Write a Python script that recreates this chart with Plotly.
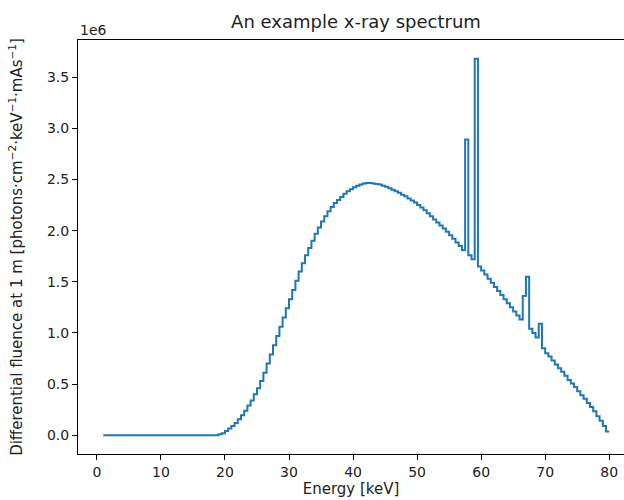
import plotly.graph_objects as go

# 1. Dados
# Bins de 0,5 keV; cada valor fica na borda superior do bin (1,0 ... 80,0 keV)
ENERGIA_INICIAL = 1.0
PASSO_KEV = 0.5

# Fluência diferencial a 1 m, em unidades de 1e6 fótons·cm⁻²·keV⁻¹·mAs⁻¹
fluencia_1e6 = [
    # 1,0 - 19,0 keV (filtrado, praticamente zero)
    0.0, 0.0, 0.0, 0.0, 0.0, 0.0, 0.0, 0.0, 0.0, 0.0,
    0.0, 0.0, 0.0, 0.0, 0.0, 0.0, 0.0, 0.0, 0.0, 0.0,
    0.0, 0.0, 0.0, 0.0, 0.0, 0.0, 0.0, 0.0, 0.0, 0.0,
    0.0, 0.0, 0.0, 0.0, 0.0, 0.0, 0.0,
    # 19,5 - 30,0 keV (subida)
    0.008, 0.02, 0.04, 0.065, 0.09, 0.12, 0.155, 0.195, 0.24, 0.29,
    0.34, 0.40, 0.46, 0.53, 0.61, 0.70, 0.79, 0.88, 0.97, 1.06,
    1.15, 1.24,
    # 30,5 - 45,0 keV
    1.33, 1.42, 1.51, 1.60, 1.68, 1.76, 1.83, 1.90, 1.97, 2.03,
    2.09, 2.14, 2.19, 2.23, 2.27, 2.30, 2.33, 2.36, 2.385, 2.405,
    2.425, 2.44, 2.45, 2.46, 2.465, 2.465, 2.46, 2.455, 2.45, 2.44,
    # 45,5 - 57,5 keV
    2.43, 2.415, 2.40, 2.385, 2.37, 2.35, 2.335, 2.315, 2.295, 2.275,
    2.25, 2.225, 2.20, 2.17, 2.14, 2.11, 2.08, 2.05, 2.02, 1.99,
    1.955, 1.92, 1.885, 1.85, 1.81,
    # 58,0 - 60,0 keV (linhas K-alfa do tungstênio)
    2.89, 1.76, 1.72, 3.68, 1.65,
    # 60,5 - 66,5 keV
    1.61, 1.57, 1.53, 1.49, 1.45, 1.41, 1.37, 1.33, 1.29, 1.25,
    1.21, 1.17, 1.13,
    # 67,0 - 70,0 keV (linhas K-beta)
    1.36, 1.55, 1.04, 1.00, 0.955, 1.09, 0.85,
    # 70,5 - 80,0 keV (queda até o kVp)
    0.80, 0.77, 0.73, 0.69, 0.655, 0.62, 0.58, 0.54, 0.505, 0.47,
    0.43, 0.39, 0.355, 0.315, 0.275, 0.235, 0.185, 0.14, 0.09, 0.035,
]
energia_kev = [ENERGIA_INICIAL + PASSO_KEV * i for i in range(len(fluencia_1e6))]

ticks_x = [0, 10, 20, 30, 40, 50, 60, 70, 80]
ticks_y = [0.0, 0.5, 1.0, 1.5, 2.0, 2.5, 3.0, 3.5]

# 2. Montagem do gráfico (degraus no estilo matplotlib 'steps-pre')
fig = go.Figure()
fig.add_trace(go.Scatter(
    x=energia_kev, y=fluencia_1e6,
    mode='lines', line=dict(color='#1f77b4', width=2, shape='vh'),
    showlegend=False
))

eixo_comum = dict(
    showgrid=False, zeroline=False, automargin=False,
    showline=True, linecolor='black', linewidth=1,
    ticks='outside', ticklen=5, tickwidth=1, tickcolor='black',
    tickfont=dict(size=14, color='#222'),
)

# 3. Layout
fig.update_layout(
    width=624, height=500,
    paper_bgcolor='white', plot_bgcolor='white',
    font=dict(family='DejaVu Sans', size=14, color='#222'),
    margin=dict(l=78, r=0, t=40, b=46),
    title=dict(
        text='An example x-ray spectrum',
        x=356 / 624, xref='container', xanchor='center',
        y=1 - 22 / 500, yref='container', yanchor='middle',
        font=dict(size=18, color='#222'),
    ),
    xaxis=dict(
        eixo_comum, range=[-2.95, 82.31], tickvals=ticks_x, mirror=True,
        title=dict(text='Energy [keV]', standoff=2, font=dict(size=15)),
    ),
    yaxis=dict(
        eixo_comum, range=[-0.184, 3.864], tickvals=ticks_y, tickformat='.1f',
        title=dict(
            text='Differential fluence at 1 m [photons·cm<sup>−2</sup>·keV<sup>−1</sup>·mAs<sup>−1</sup>]',
            standoff=20, font=dict(size=15),
        ),
    ),
    annotations=[
        dict(
            text='1e6', xref='paper', yref='paper', x=0, y=1,
            xanchor='left', yanchor='bottom', showarrow=False,
            font=dict(size=14, color='#222'),
        )
    ],
)

# a página tem margem padrão de 8px no body; zera para a figura ocupar a janela
fig.write_html(
    "out.html",
    config={'displayModeBar': False},
    post_script="document.body.style.margin='0px';",
)
